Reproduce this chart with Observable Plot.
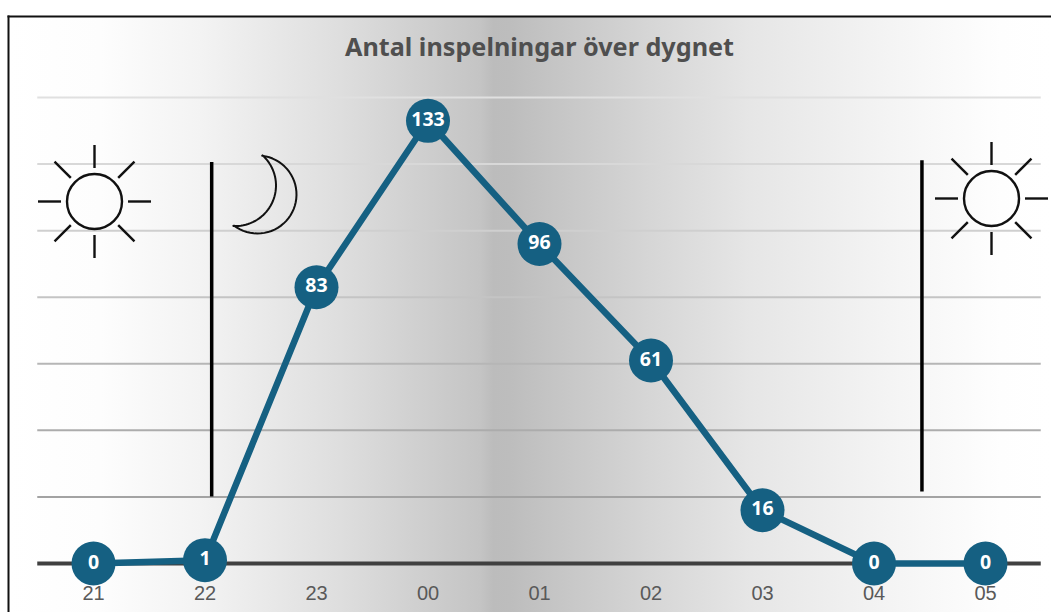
<!DOCTYPE html>
<html><head><meta charset="utf-8">
<script src="https://cdn.jsdelivr.net/npm/d3@7"></script>
<script src="https://cdn.jsdelivr.net/npm/@observablehq/plot@0.6"></script>
<style>html,body{margin:0;padding:0;background:#fff;overflow:hidden}svg{display:block}</style>
</head><body><div id="chart"></div>
<script>
const hours = ["21","22","23","00","01","02","03","04","05"];
const counts = [0,1,83,133,96,61,16,0,0];
const gridValues = [20,40,60,80,100,120,140];
const gridColors = ["#a3a3a3","#acacac","#b6b6b6","#c4c4c4","#cfcfcf","#d8d8d8","#e0e0e0"];
const nightLines = [{x:1.06,y1:20,y2:120.5},{x:7.43,y1:21.5,y2:121}];
const title = "Antal inspelningar över dygnet";

const X0=93, XSTEP=111.5, Y0=563, YUNIT=466/140;
const xPx=p=>(p-X0)/XSTEP, yPx=p=>(Y0-p)/YUNIT;
const table = hours.map((h,i)=>({i,h,c:counts[i]}));

// Icons are placed by converting picture offsets into data units
const sunCentres=[[94,201],[991,198]];
const rayAngles=[0,45,90,135,180,225,270,315];
const rays=sunCentres.flatMap(([cx,cy])=>rayAngles.map(a=>{
  const t=a*Math.PI/180,c=Math.cos(t),s=Math.sin(t);
  return {x1:xPx(cx+33.5*c),y1:yPx(cy+33.5*s),x2:xPx(cx+56.5*c),y2:yPx(cy+56.5*s)};
}));
const suns=sunCentres.map(([cx,cy])=>({x:xPx(cx),y:yPx(cy)}));
const arc=(cx,cy,r,a,b,n=40)=>d3.range(n+1).map(k=>{
  const t=(a+(b-a)*k/n)*Math.PI/180;
  return {x:xPx(cx+r*Math.cos(t)),y:yPx(cy+r*Math.sin(t))};
});
const moon=[...arc(257,194,39,-83,127),...arc(235,185,40.5,93,-48)];
moon.push(moon[0]);

const chart = Plot.plot({
  width:1051,height:612,
  marginLeft:8,marginTop:16,marginRight:0,marginBottom:0,
  style:{background:"#fff",overflow:"hidden"},
  x:{type:"linear",domain:[0,8],range:[X0,X0+8*XSTEP],axis:null},
  y:{type:"linear",domain:[0,140],range:[Y0,Y0-466],axis:null},
  marks:[
    Plot.frame({fill:"url(#bg)",stroke:"none"}),
    Plot.frame({anchor:"top",stroke:"#111",strokeWidth:2}),
    Plot.frame({anchor:"left",stroke:"#111",strokeWidth:2}),
    Plot.text([title],{x:()=>4,y:()=>155,text:d=>d,fontFamily:"Noto Sans",fontWeight:700,fontSize:25.2,fill:"#4f4f4f"}),
    Plot.ruleY(gridValues,{x1:-0.5,x2:8.5,y:d=>d,stroke:(d,i)=>gridColors[i],strokeWidth:2}),
    Plot.ruleY([0],{x1:-0.5,x2:8.5,stroke:"#404040",strokeWidth:4}),
    Plot.ruleX(nightLines,{x:"x",y1:"y1",y2:"y2",stroke:"#000",strokeWidth:3.5}),
    Plot.link(rays,{x1:"x1",y1:"y1",x2:"x2",y2:"y2",stroke:"#111",strokeWidth:2.4}),
    Plot.dot(suns,{x:"x",y:"y",r:27.5,stroke:"#111",strokeWidth:2.4}),
    Plot.line(moon,{x:"x",y:"y",stroke:"#111",strokeWidth:2}),
    Plot.line(table,{x:"i",y:"c",stroke:"#156082",strokeWidth:6.5}),
    Plot.dot(table,{x:"i",y:"c",r:22,fill:"#156082"}),
    Plot.text(table,{x:"i",y:()=>-8.9,text:"h",fontFamily:"Liberation Sans",fontSize:20,fill:"#595959"}),
    Plot.text(table,{x:"i",y:"c",text:d=>String(d.c),dy:-1,fontFamily:"Noto Sans",fontWeight:700,fontSize:19.5,fill:"#fff"})
  ]
});
d3.select(chart).insert("defs",":first-child").html(`<linearGradient id="bg" x1="0" x2="1" y1="0" y2="0">
<stop offset="0" stop-color="#fff"/><stop offset="0.088" stop-color="#fdfdfd"/><stop offset="0.184" stop-color="#f3f3f3"/>
<stop offset="0.318" stop-color="#dedede"/><stop offset="0.4525" stop-color="#c4c4c4"/><stop offset="0.465" stop-color="#bcbcbc"/>
<stop offset="0.481" stop-color="#bdbdbd"/><stop offset="0.615" stop-color="#d6d6d6"/><stop offset="0.711" stop-color="#e6e6e6"/>
<stop offset="0.855" stop-color="#f5f5f5"/><stop offset="0.951" stop-color="#fefefe"/><stop offset="1" stop-color="#fff"/></linearGradient>`);
document.getElementById("chart").append(chart);
</script></body></html>
